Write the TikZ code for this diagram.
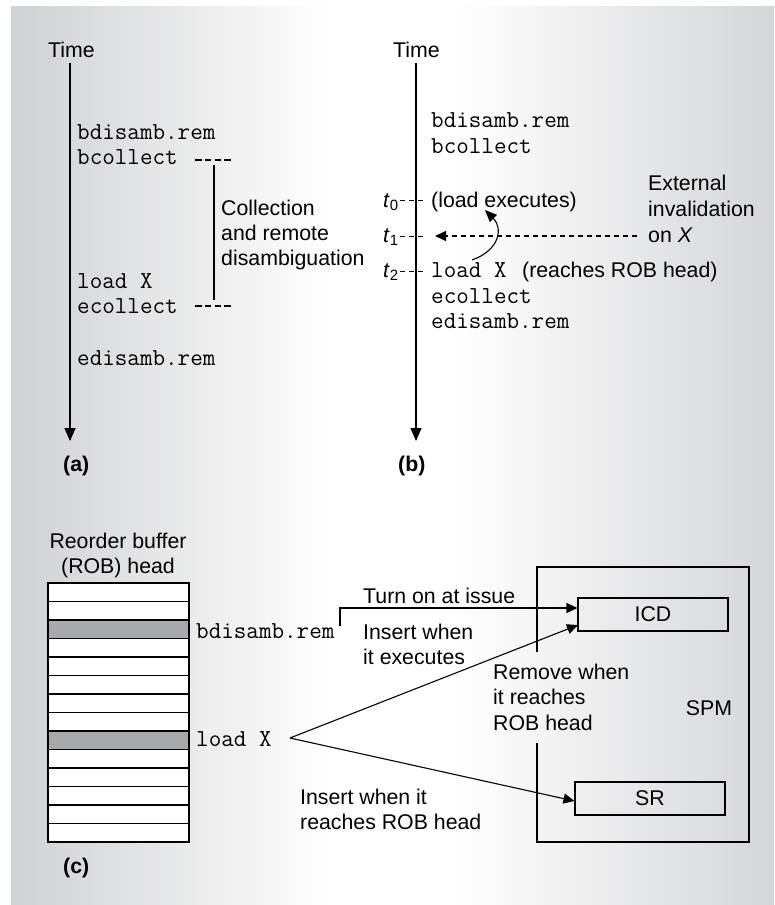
\documentclass[tikz,border=0pt]{standalone}
\usepackage{fontspec}
\setmainfont{Liberation Sans}
\usetikzlibrary{arrows.meta}
\definecolor{bgL}{RGB}{208,209,211}
\definecolor{bgR}{RGB}{213,214,216}
\definecolor{robgray}{RGB}{168,169,171}
\pgfdeclarehorizontalshading{bgshade}{100bp}{color(0bp)=(bgL); color(25bp)=(bgL); color(46bp)=(white); color(54bp)=(white); color(75bp)=(bgR); color(100bp)=(bgR)}
\newcommand\sfsz{\fontsize{21.3}{25}\selectfont}
\newcommand\ttsz{\fontsize{24.4}{25}\selectfont\ttfamily}
\tikzset{
  lbl/.style={anchor=base west, inner sep=0pt, font=\sfsz},
  code/.style={anchor=base west, inner sep=0pt, font=\ttsz},
  ln/.style={line width=1.1pt},
  bigtip/.style={-{Triangle[length=13pt,width=11pt]}},
  smalltip/.style={-{Triangle[length=11pt,width=10pt]}},
  tickdash/.style={line width=1pt, dash pattern=on 5pt off 4pt},
  brdash/.style={line width=1.1pt, dash pattern=on 6.5pt off 3.3pt},
  boxnode/.style={draw, ln, minimum width=150pt, minimum height=33pt, inner sep=0pt, font=\sfsz}
}
\begin{document}
\begin{tikzpicture}[x=1pt,y=-1pt]
\useasboundingbox (0,0) rectangle (774,905);
\fill[white] (0,0) rectangle (774,905);
\shade[shading=bgshade] (11,6) rectangle (774,905);

% ---------- (a) ----------
\node[lbl] (timeA) at (48,57) {Time};
\coordinate (aTop) at (70,63);
\coordinate (aBot) at (70,441);
\draw[ln,bigtip] (aTop) -- (aBot);
\node[code] (a1) at (77,139) {bdisamb.rem};
\node[code] (a2) at (77,164) {bcollect};
\node[code] (a3) at (77,288) {load X};
\node[code] (a4) at (77,313) {ecollect};
\node[code] (a5) at (77,365) {edisamb.rem};
\coordinate (bcS) at (195,160); \coordinate (bcE) at (234,160);
\coordinate (ecS) at (195,306); \coordinate (ecE) at (234,306);
\draw[brdash] (bcS) -- (bcE);
\draw[brdash] (ecS) -- (ecE);
\coordinate (brT) at (214,165); \coordinate (brB) at (214,300);
\draw[ln] (brT) -- (brB);
\node[lbl] (c1) at (221,215) {Collection};
\node[lbl] (c2) at (221,240) {and remote};
\node[lbl] (c3) at (221,265) {disambiguation};
\node[lbl, font=\sfsz\bfseries] (la) at (63,471) {(a)};

% ---------- (b) ----------
\node[lbl] (timeB) at (393,57) {Time};
\coordinate (bTop) at (416,63);
\coordinate (bBot) at (416,441);
\draw[ln,bigtip] (bTop) -- (bBot);
\node[code] (b1) at (431,127) {bdisamb.rem};
\node[code] (b2) at (431,153) {bcollect};
\node[lbl] (t0) at (383,207) {\textit{t}\textsubscript{0}};
\node[lbl] (t1) at (383,242) {\textit{t}\textsubscript{1}};
\node[lbl] (t2) at (383,277) {\textit{t}\textsubscript{2}};
\coordinate (t0a) at (400,200); \coordinate (t0b) at (425,200);
\coordinate (t1a) at (400,236); \coordinate (t1b) at (425,236);
\coordinate (t2a) at (400,271); \coordinate (t2b) at (425,271);
\draw[tickdash] (t0a) -- (t0b);
\draw[tickdash] (t1a) -- (t1b);
\draw[tickdash] (t2a) -- (t2b);
\node[lbl] (lexe) at (431,207) {(load executes)};
\node[code] (b3) at (431,277) {load X};
\node[lbl] (reach) at (522,277) {(reaches ROB head)};
\node[code] (b4) at (431,303) {ecollect};
\node[code] (b5) at (431,328) {edisamb.rem};
\node[lbl] (e1) at (648,190) {External};
\node[lbl] (e2) at (648,216) {invalidation};
\node[lbl] (e3) at (648,242) {on \textit{X}};
\coordinate (invS) at (637,236); \coordinate (invE) at (435,236);
\draw[line width=1.1pt, dash pattern=on 5pt off 4pt, smalltip] (invS) -- (invE);
\coordinate (cvS) at (472,260); \coordinate (cvE) at (485,210);
\draw[line width=1.1pt, -{Triangle[length=12pt,width=10pt]}] (cvS) .. controls (500,250) and (503,228) .. (cvE);
\node[lbl, font=\sfsz\bfseries] (lb) at (398,471) {(b)};

% ---------- (c) ----------
\node[anchor=base, inner sep=0pt, font=\sfsz] (rob1) at (118,548) {Reorder buffer};
\node[anchor=base, inner sep=0pt, font=\sfsz] (rob2) at (118,573) {(ROB) head};
\fill[white] (48,583) rectangle (189,842);
\fill[robgray] (48,620) rectangle (189,638.5);
\fill[robgray] (48,731) rectangle (189,749.5);
\foreach \i in {1,...,13} \draw[ln] (48,{583+18.5*\i}) -- (189,{583+18.5*\i});
\draw[ln] (48,583) rectangle (189,842);
\node[code] (cb) at (196,638) {bdisamb.rem};
\node[code] (cl) at (196,746) {load X};

\node[boxnode] (icd) at (653,614.5) {ICD};
\node[boxnode] (sr) at (650,798.5) {SR};
\draw[ln] (537,652) -- (537,567) -- (749,567) -- (749,842) -- (537,842) -- (537,743);
\node[anchor=base, inner sep=0pt, font=\sfsz] (spm) at (709,715) {SPM};

\coordinate (bdTick) at (340,626);
\coordinate (icdIn) at (icd.west |- 0,608);
\draw[ln,smalltip] (bdTick) |- (icdIn);
\coordinate (lx) at (290,738);
\coordinate (icdIn2) at (578,625);
\coordinate (srIn) at (sr.west |- 0,801);
\draw[ln,smalltip] (lx) -- (icdIn2);
\draw[ln,smalltip] (lx) -- (srIn);

\node[lbl] (turn) at (363,603) {Turn on at issue};
\node[lbl] (ins1) at (363,639) {Insert when};
\node[lbl] (ins2) at (363,664) {it executes};
\node[lbl] (rem1) at (493,679) {Remove when};
\node[lbl] (rem2) at (493,704) {it reaches};
\node[lbl] (rem3) at (493,730) {ROB head};
\node[lbl] (ir1) at (300,804) {Insert when it};
\node[lbl] (ir2) at (300,829) {reaches ROB head};
\node[lbl, font=\sfsz\bfseries] (lc) at (63,873) {(c)};
\end{tikzpicture}
\end{document}
